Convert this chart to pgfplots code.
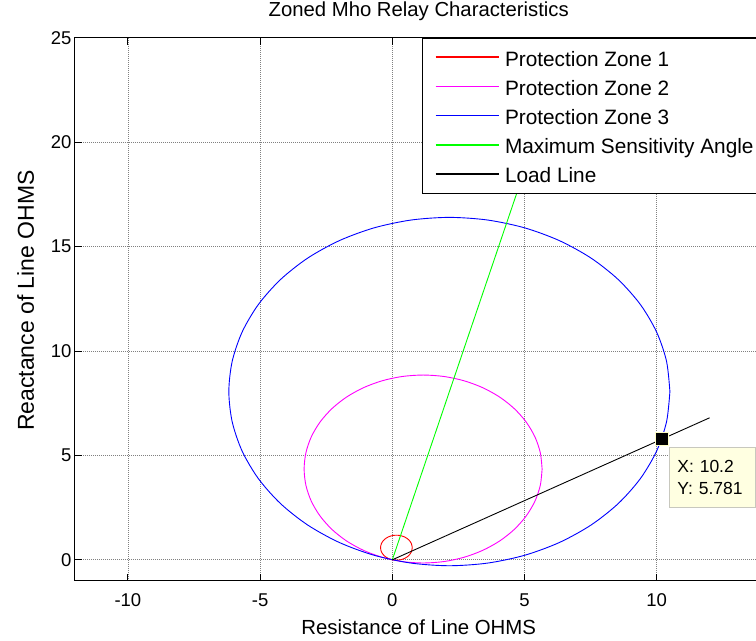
\documentclass[border=0pt]{standalone}
\usepackage{pgfplots}
\pgfplotsset{compat=1.18}
\usepackage{fontspec}
\setmainfont{Liberation Sans}
\definecolor{tipbg}{RGB}{255,255,225}
\definecolor{tipedge}{RGB}{200,200,190}
\definecolor{mkedge}{RGB}{255,255,200}
\definecolor{zred}{RGB}{255,0,0}
\definecolor{zmag}{RGB}{255,0,255}
\definecolor{zblue}{RGB}{0,0,255}
\definecolor{zgreen}{RGB}{0,255,0}
\begin{document}
\begin{tikzpicture}
\begin{axis}[
  name=ax,
  scale only axis,
  width=687.5pt, height=543pt,
  xmin=-12, xmax=14, ymin=-1, ymax=25,
  xtick={-10,-5,0,5,10}, ytick={0,5,10,15,20,25},
  grid=major,
  major grid style={black!50, dash pattern=on 1pt off 1pt, line width=0.7pt},
  tick align=inside,
  major tick length=7pt,
  tick style={black, line width=0.8pt},
  axis line style={black, line width=1pt},
  /pgf/number format/assume math mode=true,
  ticklabel style={font=\fontsize{18.5}{22}\selectfont},
  xticklabel style={anchor=base, yshift=-26pt},
  xlabel={Resistance of Line OHMS},
  ylabel={Reactance of Line OHMS},
  xlabel style={font=\fontsize{20.4}{24}\selectfont, at={(axis description cs:0.5,-0.1)}, anchor=base},
  ylabel style={font=\fontsize{23}{27}\selectfont, at={(axis description cs:-0.06,0.516)}, anchor=base},
  title={Zoned Mho Relay Characteristics},
  title style={font=\fontsize{20.3}{24}\selectfont, at={(axis description cs:0.5,1)}, anchor=base, yshift=15pt},
  legend cell align=left,
  legend image code/.code={\path[draw=none, fill=none] (0pt,-7.5pt) rectangle (66pt,7.5pt); \draw[#1, line width=1.6pt] (0pt,0pt) -- (63pt,0pt);},
  legend style={at={(axis description cs:0.5052,1)}, anchor=north west,
    draw=black, line width=0.8pt, fill=white,
    font=\fontsize{20.8}{24}\selectfont,
    inner xsep=12pt, inner ysep=4.5pt, row sep=0pt,
    nodes={inner xsep=3.5pt, inner ysep=0pt, text height=23.6pt, text depth=5.6pt}},
]
% Zone 1
\addplot[zred, line width=0.9pt, smooth] coordinates {
(0.755,0.580) (0.719,0.785) (0.615,0.966) (0.455,1.100) (0.259,1.171)
(0.051,1.171) (-0.145,1.100) (-0.305,0.966) (-0.409,0.785) (-0.445,0.580)
(-0.409,0.375) (-0.305,0.194) (-0.145,0.060) (0.051,-0.011) (0.259,-0.011)
(0.455,0.060) (0.615,0.194) (0.719,0.375) (0.755,0.580)};
\addlegendentry{Protection Zone 1}
% Zone 2
\addplot[zmag, line width=0.9pt, smooth] coordinates {
(5.665,4.347) (5.597,5.128) (5.394,5.886) (5.062,6.597) (4.612,7.240)
(4.058,7.794) (3.415,8.244) (2.704,8.576) (1.946,8.779) (1.165,8.847)
(0.384,8.779) (-0.374,8.576) (-1.085,8.244) (-1.728,7.794) (-2.282,7.240)
(-2.732,6.597) (-3.064,5.886) (-3.267,5.128) (-3.335,4.347) (-3.267,3.566)
(-3.064,2.808) (-2.732,2.097) (-2.282,1.454) (-1.728,0.900) (-1.085,0.450)
(-0.374,0.118) (0.384,-0.085) (1.165,-0.153) (1.946,-0.085) (2.704,0.118)
(3.415,0.450) (4.058,0.900) (4.612,1.454) (5.062,2.097) (5.394,2.808)
(5.597,3.566) (5.665,4.347)};
\addlegendentry{Protection Zone 2}
% Zone 3
\addplot[zblue, line width=0.9pt, smooth] coordinates {
(10.498,8.056) (10.371,9.504) (9.995,10.908) (9.380,12.226) (8.546,13.417)
(7.519,14.444) (6.328,15.278) (5.010,15.893) (3.606,16.269) (2.158,16.396)
(0.710,16.269) (-0.694,15.893) (-2.012,15.278) (-3.203,14.444) (-4.230,13.417)
(-5.064,12.226) (-5.679,10.908) (-6.055,9.504) (-6.182,8.056) (-6.055,6.608)
(-5.679,5.204) (-5.064,3.886) (-4.230,2.695) (-3.203,1.668) (-2.012,0.834)
(-0.694,0.219) (0.710,-0.157) (2.158,-0.284) (3.606,-0.157) (5.010,0.219)
(6.328,0.834) (7.519,1.668) (8.546,2.695) (9.380,3.886) (9.995,5.204)
(10.371,6.608) (10.498,8.056)};
\addlegendentry{Protection Zone 3}
% Maximum sensitivity angle
\addplot[zgreen, line width=0.9pt] coordinates {(0,0) (5.18,19.32)};
\addlegendentry{Maximum Sensitivity Angle}
% Load line
\addplot[black, line width=0.9pt] coordinates {(0,0) (12.0,6.80)};
\addlegendentry{Load Line}
% data cursor
\addplot[forget plot, only marks, mark=square*, mark size=6.5pt,
  mark options={fill=black, draw=mkedge, line width=1pt}] coordinates {(10.2,5.781)};
\node[fill=tipbg, draw=tipedge, line width=0.8pt, anchor=north west,
  align=left, text width=70pt, inner xsep=8pt, inner ysep=13pt,
  font=\fontsize{17.5}{21.3}\selectfont]
  at (axis cs:10.2,5.781) [xshift=7pt, yshift=-8.3pt] {X: 10.2\\Y: 5.781};
\end{axis}
\pgfresetboundingbox
\path[use as bounding box] ([shift={(-75pt,-60.3pt)}]ax.south west) rectangle ([shift={(681pt,37.7pt)}]ax.north west);
\end{tikzpicture}
\end{document}
